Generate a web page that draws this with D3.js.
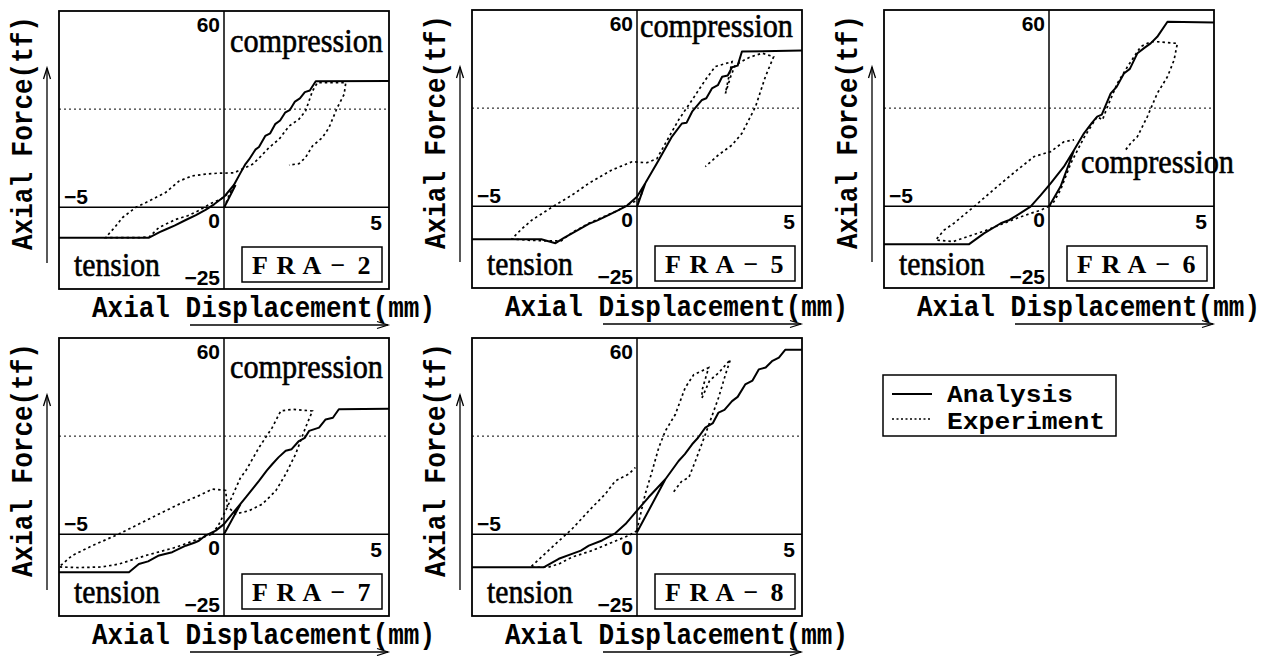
<!DOCTYPE html>
<html>
<head>
<meta charset="utf-8">
<script src="https://cdn.jsdelivr.net/npm/d3@7"></script>
<style>
  body { margin: 0; background: #fff; }
  .mono { font-family: "Liberation Mono", "DejaVu Sans Mono", monospace; font-weight: bold; }
  .serif { font-family: "Liberation Serif", serif; }
  .tick { font-family: "Liberation Sans", sans-serif; font-size: 21px; font-weight: bold; }
</style>
</head>
<body>
<svg class="chart" width="1269" height="656"></svg>
<script>
// axis ranges, same for every panel
var xDomain = [-5, 5];
var yDomain = [-25, 60];
var yieldLevel = 30;

var panelNames = ["FRA-2", "FRA-5", "FRA-6", "FRA-7", "FRA-8"];

// tick labels: [value, text]
var xTickLabels = [[-5, "\u22125"], [0, "0"], [5, "5"]];
var yTickLabels = [[60, "60"], [-25, "\u221225"]];

var legendNames = ["Analysis", "Experiment"];

// [displacement mm, force tf], null = pen up
var fra2Analysis = [[-5,-9.3],[-2.27,-9.3],[-1.95,-7.6],[-1.77,-6.8],[-1.5,-5.6],[-1.16,-3.9],[-0.85,-2.4],
  [-0.56,-0.8],[-0.3,0.9],[0,3.2],[0.3,6.8],[0.5,10.5],[0.65,13.2],[0.76,14.6],[0.95,17.6],[1.06,18.4],
  [1.25,21.8],[1.4,22.6],[1.55,25.4],[1.7,26.5],[1.85,28.9],[2.0,29.8],[2.15,32.3],[2.3,33.3],[2.45,35.2],
  [2.6,35.7],[2.78,38.5],[5,38.6], null, [0,-0.2],[0.35,6.8]];
var fra2Experiment = [[0,-0.2],[0.2,4.8],[-0.1,2.4],[-0.35,1.4],[-0.76,-1.0],[-1.1,-2.6],[-1.46,-3.7],
  [-1.97,-6.2],[-2.27,-9.1],[-2.6,-9.3],[-3.59,-9.3],[-3.3,-6],[-3.08,-3.2],[-2.68,-0.1],[-2.27,1.9],
  [-1.77,4.5],[-1.36,8],[-0.96,9.6],[-0.56,10.1],[-0.2,10.4],[0.3,10.5],[0.86,13.1],[1.06,15],[1.36,18.2],
  [1.67,20.8],[1.97,24.8],[2.27,26.9],[2.47,29.4],[2.68,35.5],[2.83,38.1],[3.69,38.1],[3.64,34.5],
  [3.43,30.4],[3.18,24.3],[2.98,21.3],[2.68,18.7],[2.47,15.2],[2.27,13.3],[1.97,12.9]];

var fra5Analysis = [[-5,-10.1],[-2.9,-10.1],[-2.47,-11.3],[-2.2,-9.6],[-1.97,-8.3],[-1.7,-6.8],[-1.46,-5.4],
  [-1.2,-4.3],[-0.96,-3.2],[-0.56,-1.2],[-0.3,0.2],[0,2.9],[0.25,7],[0.66,14.1],[1.06,21.3],[1.36,25.3],
  [1.5,25.5],[1.67,28.9],[1.97,32.5],[2.1,33],[2.27,36],[2.45,37],[2.58,39.6],[2.75,40],[2.88,42.5],
  [3.05,43],[3.18,47.3],[5,47.6], null, [0,-0.2],[0.25,7]];
var fra5Experiment = [[0.15,4],[0.05,2],[-0.3,0.4],[-0.56,-1.2],[-0.96,-3.0],[-1.46,-5.2],[-1.97,-8.1],
  [-2.3,-10.6],[-2.7,-10.6],[-3.3,-10.4],[-3.79,-10.0],[-3.5,-7.0],[-3.18,-4.2],[-2.47,0.4],[-1.97,3.4],
  [-1.46,7],[-0.76,11.1],[-0.15,13.6],[0.3,13.3],[0.6,14.5],[0.86,19.2],[1.26,26.4],[1.67,32.5],[2.07,38.6],
  [2.37,42.7],[2.88,44.2],[2.75,38],[2.68,34.5],[2.85,40],[2.98,43.2],[3.4,45.5],[3.79,46.8],[4.14,45.7],
  [3.89,39.6],[3.59,30.4],[3.18,22.3],[2.88,18.7],[2.47,15.7],[2.07,12.1]];

var fra6Analysis = [[-5,-11.6],[-2.42,-11.6],[-1.97,-8.3],[-1.46,-5.2],[-1.2,-4.2],[-0.96,-2.7],[-0.56,-0.1],
  [-0.25,3.4],[0.05,7],[0.45,12.1],[0.76,17.2],[1.06,22.3],[1.3,25.5],[1.46,27.4],[1.6,28],[1.87,34.5],
  [2.05,36.5],[2.27,40.6],[2.45,42],[2.68,46.8],[2.9,48.5],[3.08,49.8],[3.28,51.8],[3.59,56.4],[5,56.2],
  null, [0,-0.1],[0.35,6],[0.76,17.2]];
var fra6Experiment = [[0,0],[-0.25,-1.2],[-0.56,-2.2],[-0.96,-3.6],[-1.46,-5.6],[-1.97,-7.6],[-2.47,-9.3],
  [-2.9,-10.8],[-3.43,-10.3],[-3.18,-7.3],[-2.88,-5.2],[-2.27,-0.1],[-1.57,6],[-0.96,11.1],[-0.45,15.2],
  [0.05,16.7],[0.45,19.7],[0.76,20.3], null,
  [0,0],[0.15,1.4],[0.35,5],[0.66,13.1],[1.06,21],[1.46,27.4],[1.62,26.4],[1.77,30.4],[2.07,37.6],
  [2.4,43],[2.78,48.8],[3.08,50.3],[3.28,50.3],[3.6,50],[3.89,49.8],[3.79,44.7],[3.59,39.6],[3.28,34.5],
  [2.98,27.4],[2.68,21.3],[2.47,19.2],[2.32,17.2]];

var fra7Analysis = [[-5,-11.6],[-2.88,-11.6],[-2.58,-9.1],[-2.3,-8.3],[-1.97,-6.5],[-1.57,-5.5],[-1.16,-3.5],
  [-0.9,-2.6],[-0.76,-2],[-0.56,-0.4],[-0.25,1.1],[0,3.1],[0.25,6.2],[0.66,11.3],[1.06,16.3],[1.3,19.5],
  [1.46,21.4],[1.65,23.5],[1.87,25.5],[2.05,26],[2.27,28.5],[2.45,29.5],[2.58,31.6],[2.88,32.6],[3.08,35.1],
  [3.3,35.6],[3.48,38.2],[5,38.4], null, [0,0],[0.5,9.2]];
var fra7Experiment = [[-0.35,0.1],[-0.15,3.1],[0.05,7.2],[0.28,12.3],[0.5,17.3],[0.66,19.4],[1.06,26.5],
  [1.46,32.6],[1.72,37.7],[2.07,38.2],[2.68,37.7],[2.47,32.6],[2.17,24.5],[1.87,18.4],[1.57,13.3],[1.16,9.2],
  [0.76,7.2],[0.35,6.2],[0.1,8.5],[0.05,13.4],[-0.35,13.8],[-0.76,11.8],[-1.36,9.2],[-1.97,6.2],[-2.58,3.1],
  [-3.18,0.1],[-3.99,-3.5],[-4.6,-6.5],[-5,-10],[-4.4,-10.2],[-3.69,-10],[-3.18,-9.1],[-2.37,-6.5],
  [-1.46,-4],[-0.76,-1.4],[-0.35,0.1]];

var fra8Analysis = [[-5,-10.1],[-2.83,-10.1],[-2.37,-7.5],[-1.97,-6],[-1.7,-5],[-1.46,-3.5],[-1.06,-1.9],
  [-0.66,0.3],[-0.35,3.1],[0,7.2],[0.35,11.3],[0.86,16.8],[1.26,22.4],[1.45,24.5],[1.67,27.5],[1.85,29.5],
  [2.07,32.6],[2.3,34],[2.47,37.2],[2.65,38],[2.88,40.7],[3.05,42],[3.28,45.8],[3.5,47],[3.69,50.4],[3.9,51],
  [4.09,52.9],[4.3,54],[4.49,56.4],[5,56.4], null, [0,0.6],[0.86,16.8]];
var fra8Experiment = [[0,1.1],[-0.25,-0.4],[-0.76,-2.5],[-1.36,-5],[-1.97,-7],[-2.37,-9.1],[-2.7,-10.1],
  [-3.23,-10.1],[-2.47,-3],[-1.97,1.6],[-1.36,8.2],[-0.96,12.3],[-0.66,16.3],[-0.25,18.4],[-0.05,20.4], null,
  [0,1.1],[0.05,3.6],[0.25,12.3],[0.45,19],[0.66,26.5],[0.86,31.6],[1.16,36.6],[1.46,44.8],[1.72,48.8],
  [2.17,50.9],[1.97,44],[1.97,41.7],[2.2,47],[2.47,49.3],[2.83,53.4],[2.68,48.8],[2.47,41.7],[2.07,30.5],
  [1.77,22.4],[1.57,17.3],[1.36,16.3],[1.06,12.3]];

var analysisSets = [fra2Analysis, fra5Analysis, fra6Analysis, fra7Analysis, fra8Analysis];
var experimentSets = [fra2Experiment, fra5Experiment, fra6Experiment, fra7Experiment, fra8Experiment];

//size of one panel
var graph = {width:330, height:278};
var panelLeft = [59, 472, 884, 59, 472];
var panelTop = [11, 10, 10, 338, 338];
// where "compression" sits inside each panel (none on the last)
var compPos = [[171,41],[168,27],[197,163],[171,40],null];

var svg = d3.select(".chart");
svg.append("rect").attr("width",1269).attr("height",656).attr("fill","#fff");

var xScale = d3.scaleLinear().domain(xDomain).range([0, graph.width]);
var yScale = d3.scaleLinear().domain(yDomain).range([graph.height, 0]);

var line = d3.line()
    .defined(function(d){ return d !== null; })
    .x(function(d){ return xScale(d[0]); })
    .y(function(d){ return yScale(d[1]); });

var arrowUp = function(g, x, y1, y2)
{
    g.append("line").attr("x1",x).attr("x2",x).attr("y1",y1).attr("y2",y2)
        .attr("stroke","#000").attr("stroke-width",1.3);
    g.append("path").attr("d","M"+(x-3.5)+","+(y2+11)+" L"+x+","+y2+" L"+(x+3.5)+","+(y2+11))
        .attr("fill","none").attr("stroke","#000").attr("stroke-width",1.3);
}

var arrowRight = function(g, x1, x2, y)
{
    g.append("line").attr("x1",x1).attr("x2",x2).attr("y1",y).attr("y2",y)
        .attr("stroke","#000").attr("stroke-width",1.3);
    g.append("path").attr("d","M"+(x2-11)+","+(y-3.5)+" L"+x2+","+y+" L"+(x2-11)+","+(y+3.5))
        .attr("fill","none").attr("stroke","#000").attr("stroke-width",1.3);
}

var drawPanel = function(i)
{
    var g = svg.append("g")
        .attr("transform","translate("+panelLeft[i]+","+panelTop[i]+")");

    // yield level
    g.append("line")
        .attr("x1",0).attr("x2",graph.width)
        .attr("y1",yScale(yieldLevel)).attr("y2",yScale(yieldLevel))
        .attr("stroke","#000").attr("stroke-width",1)
        .attr("stroke-dasharray","2,3");

    // zero axes
    g.append("line").attr("x1",0).attr("x2",graph.width)
        .attr("y1",yScale(0)).attr("y2",yScale(0))
        .attr("stroke","#000").attr("stroke-width",1.5);
    g.append("line").attr("x1",xScale(0)).attr("x2",xScale(0))
        .attr("y1",0).attr("y2",graph.height)
        .attr("stroke","#000").attr("stroke-width",1.5);

    // curves
    g.append("path").datum(experimentSets[i])
        .attr("d",line).attr("fill","none")
        .attr("stroke","#000").attr("stroke-width",1.7)
        .attr("stroke-dasharray","2.5,3");
    g.append("path").datum(analysisSets[i])
        .attr("d",line).attr("fill","none")
        .attr("stroke","#000").attr("stroke-width",2)
        .attr("stroke-linejoin","round");

    // frame
    g.append("rect").attr("width",graph.width).attr("height",graph.height)
        .attr("fill","none").attr("stroke","#000").attr("stroke-width",1.8);

    // tick labels
    var ticks = g.append("g").classed("tick",true).attr("fill","#000");
    ticks.append("text").text(xTickLabels[0][1])
        .attr("x",xScale(xTickLabels[0][0])+5).attr("y",yScale(0)-3);
    ticks.append("text").text(xTickLabels[1][1]).attr("text-anchor","end")
        .attr("x",xScale(xTickLabels[1][0])-4).attr("y",yScale(0)+21);
    ticks.append("text").text(xTickLabels[2][1]).attr("text-anchor","end")
        .attr("x",xScale(xTickLabels[2][0])-7).attr("y",yScale(0)+23);
    ticks.append("text").text(yTickLabels[0][1]).attr("text-anchor","end")
        .attr("x",xScale(0)-4).attr("y",yScale(yTickLabels[0][0])+21);
    ticks.append("text").text(yTickLabels[1][1]).attr("text-anchor","end")
        .attr("x",xScale(0)-4).attr("y",yScale(yTickLabels[1][0])-4);

    // tension / compression
    g.append("text").classed("serif",true).text("tension")
        .attr("x",15).attr("y",graph.height-13)
        .attr("font-size",34).attr("textLength",86).attr("lengthAdjust","spacingAndGlyphs")
        .attr("stroke","#000").attr("stroke-width",0.6);
    if (compPos[i])
    {
        g.append("text").classed("serif",true).text("compression")
            .attr("x",compPos[i][0]).attr("y",compPos[i][1])
            .attr("font-size",34).attr("textLength",153).attr("lengthAdjust","spacingAndGlyphs")
            .attr("stroke","#000").attr("stroke-width",0.6);
    }

    // specimen name box
    var bx = 183, by = graph.height-42;
    g.append("rect").attr("x",bx).attr("y",by).attr("width",140).attr("height",35)
        .attr("fill","#fff").attr("stroke","#000").attr("stroke-width",1.5);
    var chars = Array.from(panelNames[i].replace("-","\u2212"));
    g.append("g").selectAll("text").data(chars).enter().append("text")
        .classed("serif",true)
        .attr("font-size",26).attr("font-weight","bold")
        .attr("text-anchor","middle")
        .attr("x",function(d,k){ return bx+70+(k-2)*26; })
        .attr("y",by+27)
        .text(function(d){ return d; });

    // axis titles with arrows
    g.append("text").classed("mono",true).attr("font-size",26)
        .attr("transform","translate(-27,122) rotate(-90) scale(1,1.15)")
        .attr("text-anchor","middle")
        .text("Axial Force(tf)");
    arrowUp(g, -12, 252, 57);

    g.append("text").classed("mono",true).attr("font-size",26)
        .attr("transform","translate(33,"+(graph.height+28)+") scale(1,1.15)")
        .text("Axial Displacement(mm)");
    arrowRight(g, 131, graph.width-1, graph.height+36);
}

for (var i = 0; i < panelNames.length; i++) { drawPanel(i); }

// legend
var legend = svg.append("g").attr("transform","translate(883,375)");
legend.append("rect").attr("width",233).attr("height",61)
    .attr("fill","#fff").attr("stroke","#000").attr("stroke-width",1.5);
legend.append("line").attr("x1",9).attr("x2",49).attr("y1",19).attr("y2",19)
    .attr("stroke","#000").attr("stroke-width",1.8);
legend.append("line").attr("x1",9).attr("x2",49).attr("y1",44).attr("y2",44)
    .attr("stroke","#000").attr("stroke-width",1.3).attr("stroke-dasharray","2,2.5");
var legendWidths = [126, 158];
legend.selectAll("text.lg").data(legendNames).enter().append("text")
    .classed("mono",true).attr("font-size",23)
    .attr("x",64).attr("y",function(d,k){ return 27+k*27; })
    .attr("textLength",function(d,k){ return legendWidths[k]; })
    .attr("lengthAdjust","spacingAndGlyphs")
    .text(function(d){ return d; });
</script>
</body>
</html>
